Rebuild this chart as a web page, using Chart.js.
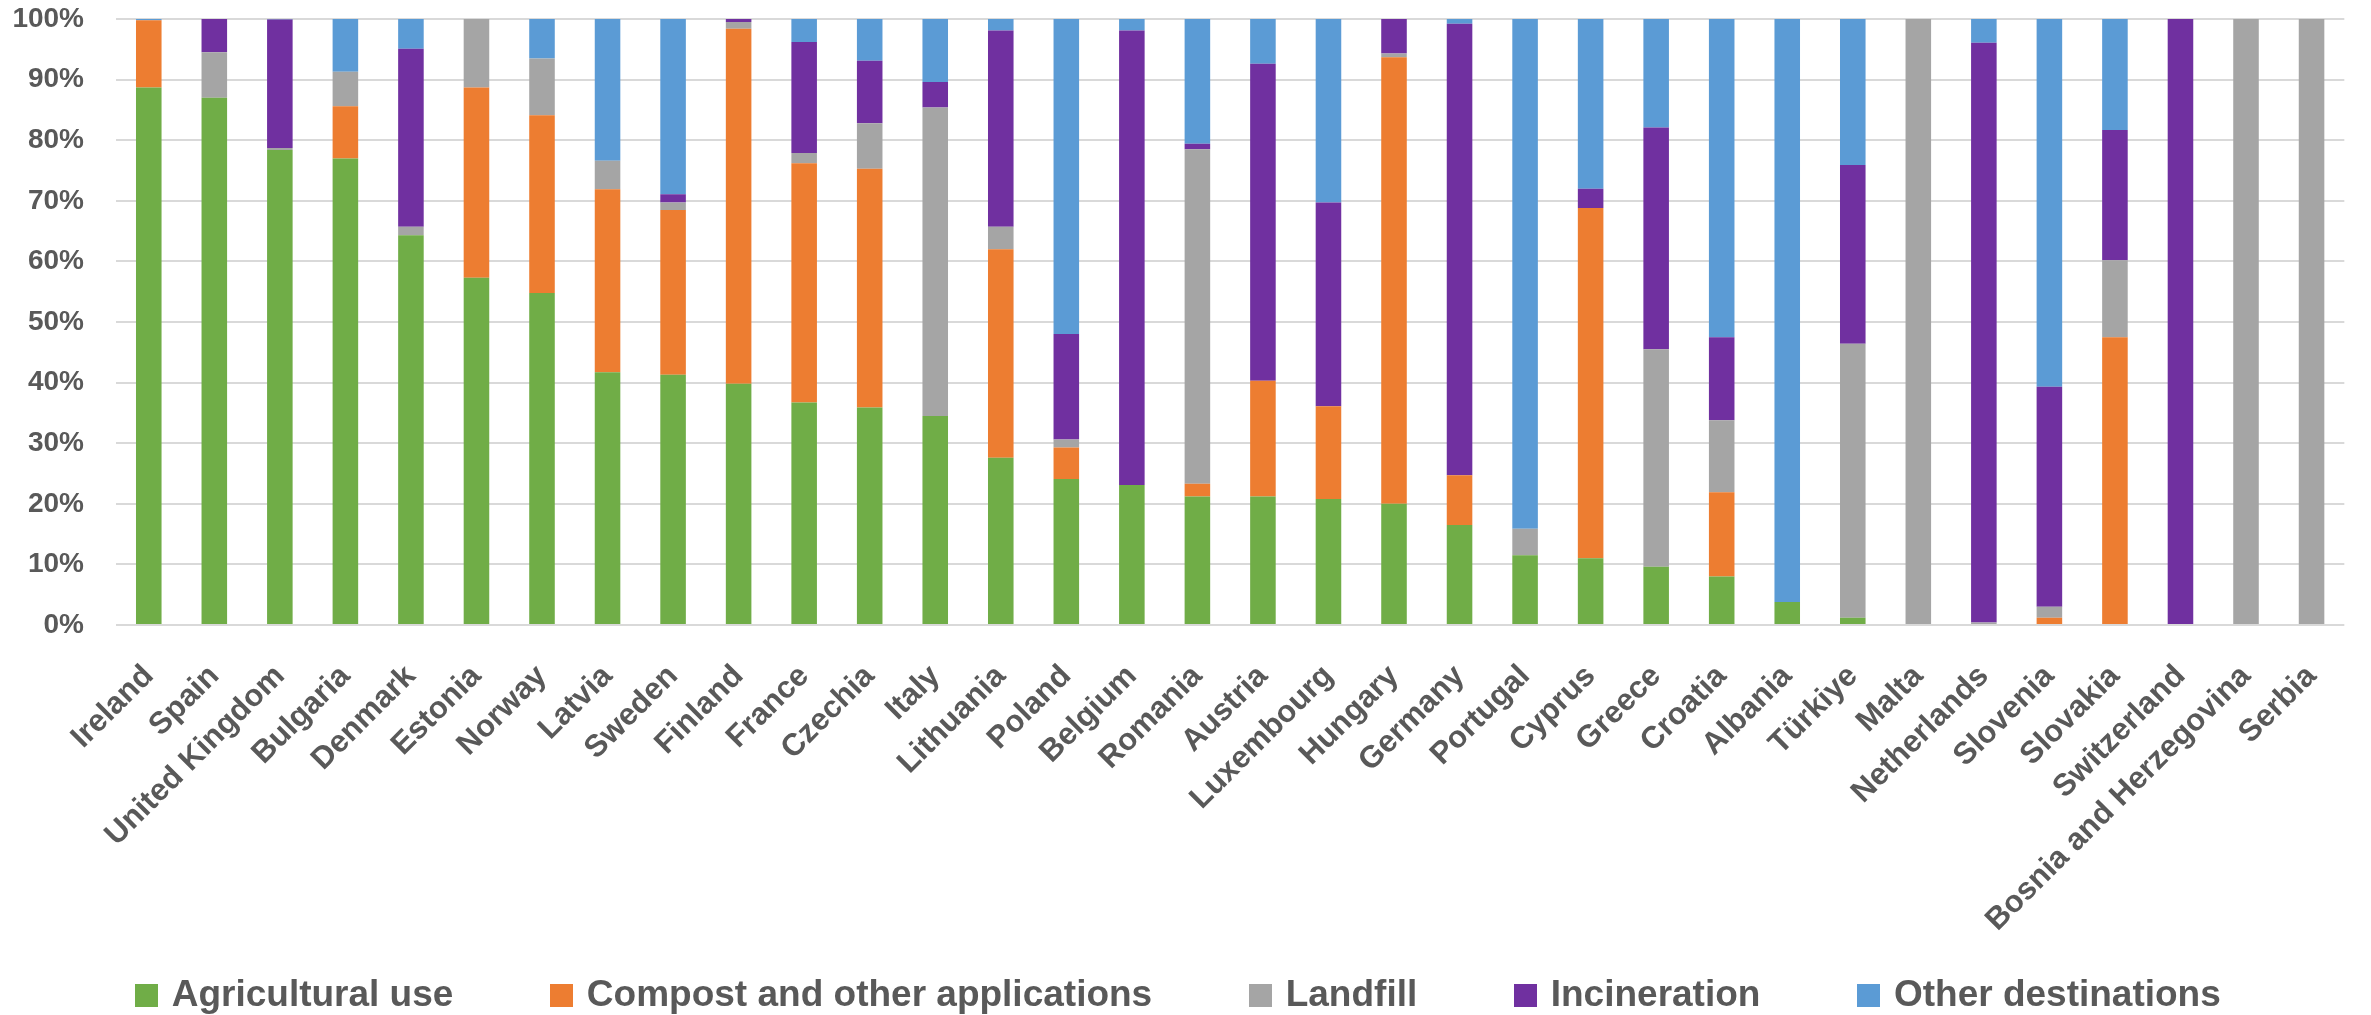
<!DOCTYPE html>
<html>
<head>
<meta charset="utf-8">
<title>Sludge destinations by country</title>
<script src="https://cdn.jsdelivr.net/npm/chart.js@4/dist/chart.umd.min.js"></script>
<style>
  html, body { margin: 0; padding: 0; background: #ffffff; }
  #wrap { width: 2371px; height: 1015px; position: relative; }
</style>
</head>
<body>
<div id="wrap"><canvas id="chart" width="2371" height="1015"></canvas></div>
<script>
// Countries, ordered by share of agricultural use
const countries = [
  'Ireland', 'Spain', 'United Kingdom', 'Bulgaria', 'Denmark', 'Estonia', 'Norway',
  'Latvia', 'Sweden', 'Finland', 'France', 'Czechia', 'Italy', 'Lithuania', 'Poland',
  'Belgium', 'Romania', 'Austria', 'Luxembourg', 'Hungary', 'Germany', 'Portugal',
  'Cyprus', 'Greece', 'Croatia', 'Albania', 'Türkiye', 'Malta', 'Netherlands',
  'Slovenia', 'Slovakia', 'Switzerland', 'Bosnia and Herzegovina', 'Serbia'
];

// Share of sludge by destination (%)
const agriculturalUse = [
  88.7, 87.0, 78.4, 77.0, 64.3, 57.3, 54.8, 41.7, 41.3, 39.8, 36.7, 35.9, 34.5, 27.6, 24.1,
  23.1, 21.2, 21.2, 20.8, 20.0, 16.5, 11.5, 11.0, 9.6, 8.0, 3.8, 1.2, 0, 0, 0, 0, 0, 0, 0
];
const compost = [
  11.1, 0, 0, 8.6, 0, 31.4, 29.3, 30.2, 27.2, 58.6, 39.5, 39.4, 0, 34.4, 5.2,
  0, 2.1, 19.1, 15.3, 73.7, 8.2, 0, 57.8, 0, 13.9, 0, 0, 0, 0, 1.2, 47.5, 0, 0, 0
];
const landfill = [
  0, 7.5, 0.3, 5.7, 1.4, 11.3, 9.4, 4.7, 1.2, 1.1, 1.7, 7.5, 50.9, 3.7, 1.3,
  0, 55.2, 0, 0, 0.6, 0, 4.4, 0, 35.9, 11.9, 0, 45.2, 100, 0.4, 1.8, 12.7, 0, 100, 100
];
const incineration = [
  0, 5.5, 21.2, 0, 29.4, 0, 0, 0, 1.4, 0.5, 18.3, 10.3, 4.2, 32.4, 17.4,
  75.0, 0.9, 52.3, 33.6, 5.7, 74.5, 0, 3.2, 36.6, 13.7, 0, 29.5, 0, 95.7, 36.3, 21.5, 100, 0, 0
];
const otherDestinations = [
  0.2, 0, 0.1, 8.7, 4.9, 0, 6.5, 23.4, 28.9, 0, 3.8, 6.9, 10.4, 1.9, 52.0,
  1.9, 20.6, 7.4, 30.3, 0, 0.8, 84.1, 28.0, 17.9, 52.5, 96.2, 24.1, 0, 3.9, 60.7, 18.3, 0, 0, 0
];

// Y axis tick labels
const yTicks = ['0%', '10%', '20%', '30%', '40%', '50%', '60%', '70%', '80%', '90%', '100%'];

const seriesNames = ['Agricultural use', 'Compost and other applications', 'Landfill', 'Incineration', 'Other destinations'];
const seriesColors = ['#70ad47', '#ed7d31', '#a5a5a5', '#7030a0', '#5b9bd5'];
const seriesData = [agriculturalUse, compost, landfill, incineration, otherDestinations];

const textGrey = '#595959';
const family = '"Liberation Sans", Arial, sans-serif';

// Square legend swatches, drawn as point styles so the gap to the text stays tight
const swatchSize = 23;
const swatches = seriesColors.map((color) => {
  const c = document.createElement('canvas');
  c.width = swatchSize;
  c.height = swatchSize;
  const g = c.getContext('2d');
  g.fillStyle = color;
  g.fillRect(0, 0, swatchSize, swatchSize);
  return c;
});

const datasets = seriesData.map((values, i) => ({
  label: seriesNames[i],
  data: values,
  backgroundColor: seriesColors[i],
  borderWidth: 0,
  barPercentage: 0.39,
  categoryPercentage: 1.0
}));

new Chart(document.getElementById('chart'), {
  type: 'bar',
  data: { labels: countries, datasets },
  options: {
    responsive: false,
    animation: false,
    layout: { autoPadding: false, padding: { top: 19, right: 10, bottom: -9, left: 0 } },
    plugins: {
      tooltip: { enabled: false },
      legend: {
        position: 'bottom',
        labels: {
          color: textGrey,
          font: { family, size: 37, weight: 'bold' },
          usePointStyle: true,
          boxWidth: 13,
          boxHeight: 23,
          padding: 102,
          generateLabels: (chart) =>
            Chart.defaults.plugins.legend.labels.generateLabels(chart)
              .map((item, i) => Object.assign(item, { pointStyle: swatches[i] }))
        }
      }
    },
    scales: {
      x: {
        stacked: true,
        grid: { display: false, drawTicks: false },
        border: { display: false },
        ticks: {
          autoSkip: false,
          minRotation: 45,
          maxRotation: 45,
          padding: 33,
          color: textGrey,
          font: { family, size: 31, weight: 'bold' }
        },
        afterFit: (scale) => {
          scale.height = 250;
          // long rotated names run below the axis box, so keep them unclipped
          scale._computeLabelArea = () => null;
        }
      },
      y: {
        stacked: true,
        min: 0,
        max: 100,
        grid: { color: '#d9d9d9', lineWidth: 2, drawTicks: false },
        border: { display: false },
        ticks: {
          stepSize: 10,
          padding: 32,
          color: textGrey,
          font: { family, size: 28, weight: 'bold' },
          callback: (value) => yTicks[Math.round(value / 10)]
        },
        afterFit: (scale) => {
          scale.width = 116;
          // the tick padding only separates labels from the plot horizontally
          scale.paddingTop = 0;
          scale.paddingBottom = 0;
        }
      }
    }
  }
});
</script>
</body>
</html>
